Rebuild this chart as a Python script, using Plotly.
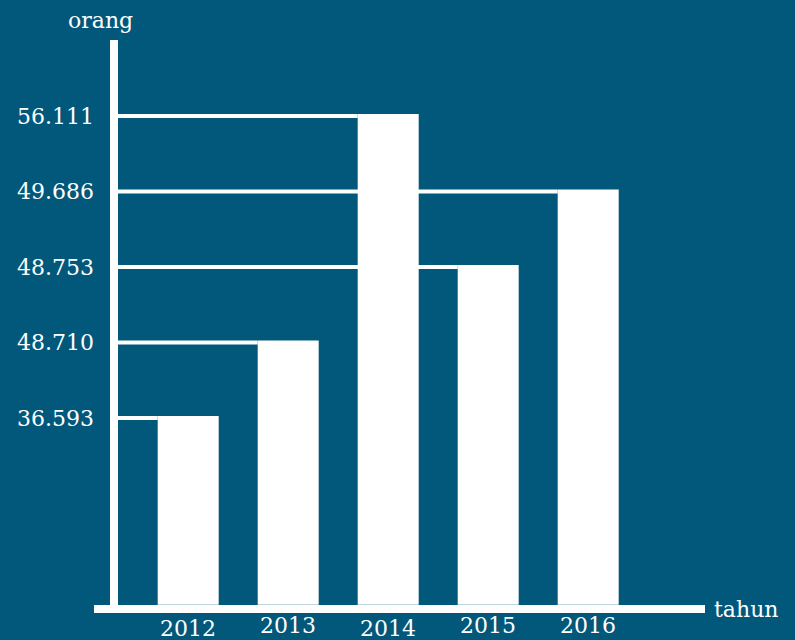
import plotly.graph_objects as go

# ---- data ----
years = ["2012", "2013", "2014", "2015", "2016"]
values = [36593, 48710, 56111, 48753, 49686]          # orang
value_labels = ["36.593", "48.710", "56.111", "48.753", "49.686"]
y_title = "orang"
x_title = "tahun"

BG = "#01587a"
FG = "#ffffff"
FONT = "DejaVu Serif"
W, H = 795, 640

# rank-based (infographic) vertical scale: each distinct value gets one level
order = sorted(set(values))
levels = [order.index(v) + 1 for v in values]
BASE = -1.5
idx = list(range(len(years)))

# pixel helpers for the full-bleed plotting frame
def xi(px):
    return (px - 188.2) / 100.0

def yk(py):
    return 1 + (416 - py) / 75.5

BAR_W = 0.61

fig = go.Figure()

# horizontal guide lines from the y axis to each bar's top
for i, k in zip(idx, levels):
    fig.add_trace(go.Scatter(
        x=[xi(118), i - BAR_W / 2], y=[k - 2 / 75.5, k - 2 / 75.5],
        mode="lines", line=dict(color=FG, width=4),
        hoverinfo="skip", showlegend=False))

fig.add_trace(go.Bar(
    x=idx, y=[k - BASE for k in levels], base=BASE, width=BAR_W,
    marker=dict(color=FG, line=dict(width=0)),
    customdata=values, hovertemplate="%{customdata}<extra></extra>",
    showlegend=False))

annotations = []
# value labels on the left (one per level)
for i, k in zip(idx, levels):
    annotations.append(dict(
        x=15 / W, xref="paper", y=k - 2 / 75.5, yref="y", text=value_labels[i],
        xanchor="left", yanchor="middle", showarrow=False,
        font=dict(family=FONT, size=22, color=FG)))

# year labels (slightly staggered like the original)
stagger = [3, 0, 3, 0, 0]
for i, yr in enumerate(years):
    annotations.append(dict(
        x=i, xref="x", y=yk(625 + stagger[i]), yref="y", text=yr,
        xanchor="center", yanchor="middle", showarrow=False,
        font=dict(family=FONT, size=22, color=FG)))

annotations.append(dict(x=100 / W, xref="paper", y=1 - 20 / H, yref="paper",
                        text=y_title, xanchor="center", yanchor="middle",
                        showarrow=False, font=dict(family=FONT, size=22, color=FG)))
annotations.append(dict(x=712 / W, xref="paper", y=1 - 609 / H, yref="paper",
                        text=x_title, xanchor="left", yanchor="middle",
                        showarrow=False, font=dict(family=FONT, size=22, color=FG)))

shapes = [
    # y axis
    dict(type="rect", xref="paper", yref="paper",
         x0=110 / W, x1=118 / W, y0=1 - 613 / H, y1=1 - 40 / H,
         fillcolor=FG, line=dict(width=0), layer="above"),
    # x axis
    dict(type="rect", xref="paper", yref="paper",
         x0=94 / W, x1=705 / W, y0=1 - 613 / H, y1=1 - 605 / H,
         fillcolor=FG, line=dict(width=0), layer="above"),
]

fig.update_layout(
    width=W, height=H,
    margin=dict(l=0, r=0, t=0, b=0),
    paper_bgcolor=BG, plot_bgcolor=BG,
    xaxis=dict(range=[xi(0), xi(W)], visible=False, fixedrange=True),
    yaxis=dict(range=[yk(H), yk(0)], visible=False, fixedrange=True),
    annotations=annotations, shapes=shapes,
    showlegend=False,
)

fig.write_html(
    "out.html",
    config={"displayModeBar": False},
    post_script="document.body.style.margin='0';document.body.style.background='%s';" % BG,
)
